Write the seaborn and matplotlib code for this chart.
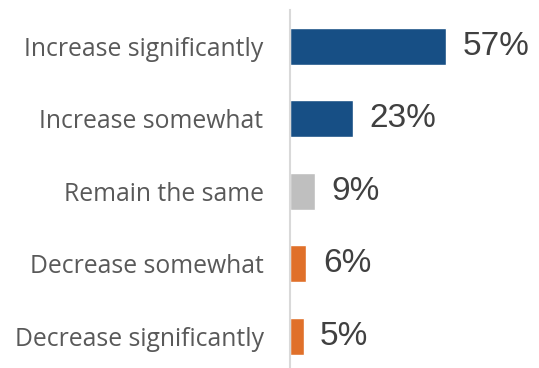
import pandas as pd
import matplotlib.pyplot as plt
import seaborn as sns

# Survey response shares (%)
categories = ['Increase significantly', 'Increase somewhat', 'Remain the same',
              'Decrease somewhat', 'Decrease significantly']
values = [57, 23, 9, 6, 5]
colors = ['#174f85', '#174f85', '#bfbfbf', '#e0702a', '#e0702a']

df = pd.DataFrame({'Response': categories, 'Share': values})

sns.set_style('white')
fig = plt.figure(figsize=(5.39, 3.68), dpi=100)
ax = fig.add_axes([290 / 539, 0.0, 249 / 539, 1 - 10 / 368])

sns.barplot(data=df, x='Share', y='Response', hue='Response', palette=colors,
            orient='h', width=0.51, saturation=1, legend=False, ax=ax)

for i, v in enumerate(values):
    ax.text(v + 6, i, f'{v}%', va='center', ha='left', fontsize=24,
            family='Liberation Sans', color='#404040')

ax.set_xlim(0, 90.9)
ax.set_ylim(4.44, -0.5)
ax.set_xlabel('')
ax.set_ylabel('')
ax.set_xticks([])
ax.tick_params(axis='y', length=0, pad=19)
for lbl in ax.get_yticklabels():
    lbl.set_fontfamily('Open Sans')
    lbl.set_fontsize(17.8)
    lbl.set_color('#595959')

for s in ['top', 'right', 'bottom']:
    ax.spines[s].set_visible(False)
ax.spines['left'].set_color('#d9d9d9')
ax.spines['left'].set_linewidth(1.5)

fig.savefig('out.png', dpi=100)
